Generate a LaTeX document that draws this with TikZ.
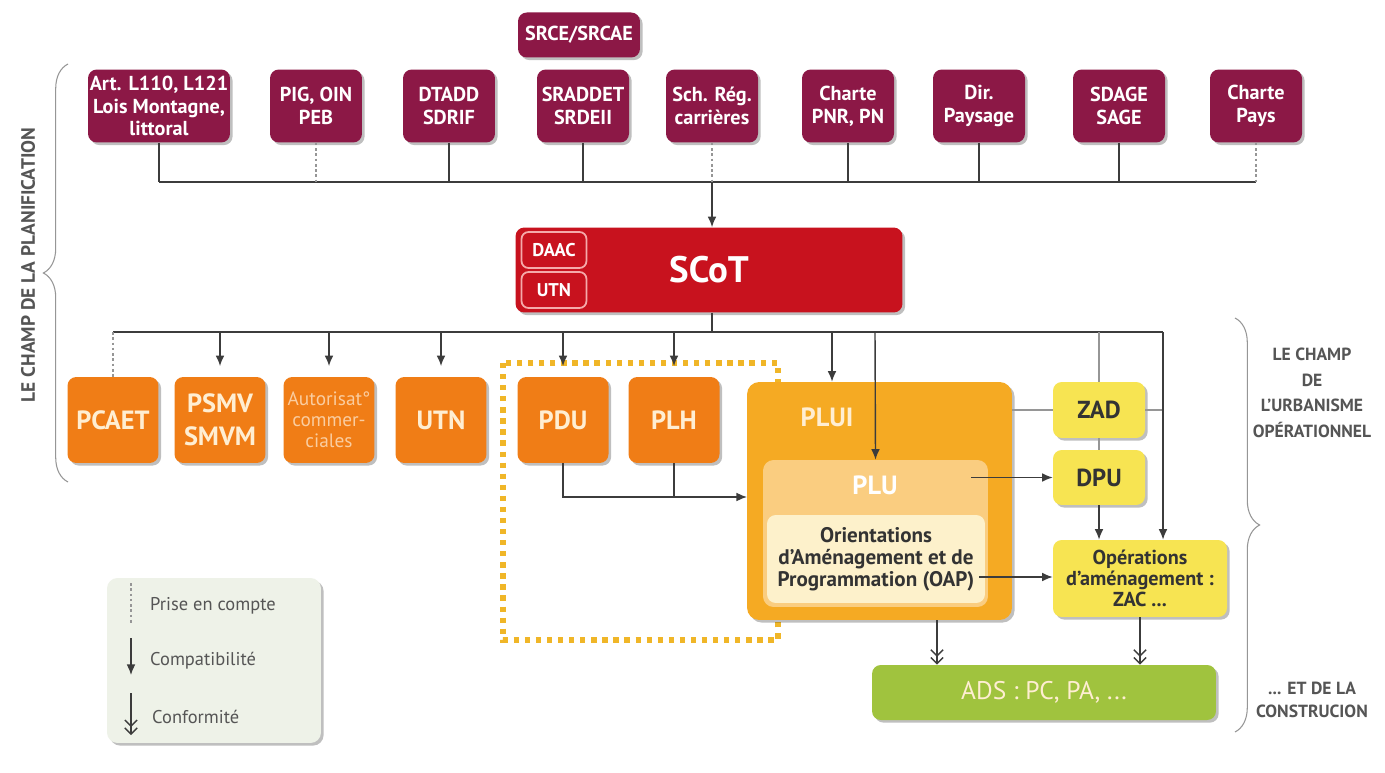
\documentclass[tikz,border=0pt]{standalone}
\usepackage{fontspec}
\setmainfont{PT Sans}
\usetikzlibrary{arrows.meta,shadows,decorations.pathreplacing}

\definecolor{lieDeVin}{RGB}{140,24,70}
\definecolor{rougeScot}{RGB}{200,18,30}
\definecolor{roseCadre}{RGB}{245,170,170}
\definecolor{orangeDoc}{RGB}{240,125,22}
\definecolor{orangePlui}{RGB}{245,170,35}
\definecolor{orangePlu}{RGB}{250,205,128}
\definecolor{cremeOap}{RGB}{253,241,203}
\definecolor{jauneOp}{RGB}{247,228,82}
\definecolor{vertAds}{RGB}{160,195,62}
\definecolor{fondLeg}{RGB}{238,242,232}
\definecolor{pointille}{RGB}{240,182,40}
\definecolor{trait}{RGB}{60,60,60}
\definecolor{traitClair}{RGB}{150,150,150}
\definecolor{texteGris}{RGB}{85,85,85}
\definecolor{texteCreme}{RGB}{255,238,210}
\definecolor{textePeche}{RGB}{250,205,160}

\tikzset{
  ombre/.style={drop shadow={shadow xshift=1.5pt, shadow yshift=-1.5pt, opacity=0.25, fill=black}},
  boite/.style={rounded corners=5pt, align=center, inner sep=1pt, ombre},
  haut/.style={boite, fill=lieDeVin, text=white, minimum width=1.84cm, minimum height=1.46cm,
    font=\bfseries\fontsize{11.5}{13}\selectfont},
  docorange/.style={boite, fill=orangeDoc, text=texteCreme, minimum width=1.82cm, minimum height=1.72cm,
    font=\bfseries\fontsize{15}{19}\selectfont},
  petitscot/.style={draw=roseCadre, line width=1pt, rounded corners=4pt, fill=rougeScot, text=white,
    minimum width=1.3cm, minimum height=0.72cm, font=\bfseries\fontsize{10.5}{11}\selectfont},
  jaune/.style={boite, fill=jauneOp, text=black!80, minimum width=1.84cm,
    font=\bfseries\fontsize{14}{15}\selectfont},
  ligne/.style={draw=trait, line width=0.8pt},
  gris/.style={draw=traitClair, line width=0.8pt},
  prise/.style={draw=traitClair, line width=0.8pt, dash pattern=on 1.5pt off 1.5pt},
  compat/.style={ligne, -{Latex[length=6pt,width=5pt]}},
  conform/.style={ligne, -{Straight Barb[length=3.5pt,width=7pt]Straight Barb[length=3.5pt,width=7pt]}},
  accolade/.style={draw=traitClair, line width=0.6pt, decorate, decoration={brace, amplitude=14pt}},
  etiquette/.style={text=texteGris, align=center, font=\bfseries\fontsize{10}{14.5}\selectfont},
  legtexte/.style={text=texteGris, anchor=west, font=\fontsize{10.5}{12}\selectfont},
}

\begin{document}
\begin{tikzpicture}[x=0.02cm, y=-0.02cm]
  \useasboundingbox (0,0) rectangle (1385,773);
  \fill[white] (0,0) rectangle (1385,773);

  % cadre pointille PDU / PLH
  \draw[pointille, line width=3pt, dash pattern=on 3pt off 3.3pt] (503,363) rectangle (778,640);

  % documents de rang superieur
  \node[haut, minimum width=2.44cm, minimum height=0.9cm] (srce) at (579,35) {SRCE/SRCAE};
  \node[haut, minimum width=2.84cm] (art) at (159,106) {Art. L110, L121\\Lois Montagne,\\littoral};
  \node[haut] (pig) at (316,106) {PIG, OIN\\PEB};
  \node[haut] (dtadd) at (449,106) {DTADD\\SDRIF};
  \node[haut] (sraddet) at (583,106) {SRADDET\\SRDEII};
  \node[haut] (carr) at (712,106) {Sch. Rég.\\carrières};
  \node[haut] (pnr) at (848,106) {Charte\\PNR, PN};
  \node[haut] (paysage) at (979,106) {Dir.\\Paysage};
  \node[haut] (sdage) at (1119,106) {SDAGE\\SAGE};
  \node[haut] (pays) at (1256,106) {Charte\\Pays};

  % SCoT
  \node[boite, fill=rougeScot, text=white, minimum width=7.74cm, minimum height=1.7cm,
    font=\bfseries\fontsize{21}{22}\selectfont] (scot) at (709,270) {SCoT};
  \node[petitscot] (daac) at (554,250) {DAAC};
  \node[petitscot] (utnS) at (554,290) {UTN};

  % documents orange
  \node[docorange] (pcaet) at (113,420) {PCAET};
  \node[docorange] (psmv) at (220,420) {PSMV\\SMVM};
  \node[docorange, text=textePeche, font=\fontsize{11}{12}\selectfont] (autor) at (329,420) {Autorisat°\\commer-\\ciales};
  \node[docorange] (utn) at (441,420) {UTN};
  \node[docorange] (pdu) at (563,420) {PDU};
  \node[docorange] (plh) at (674,420) {PLH};

  % PLUI / PLU / OAP
  \node[boite, fill=orangePlui, rounded corners=7pt, minimum width=5.3cm, minimum height=4.76cm] (plui) at (879.5,501) {};
  \node[text=texteCreme, font=\bfseries\fontsize{15}{16}\selectfont] (pluiT) at (827,417) {PLUI};
  \node[fill=orangePlu, rounded corners=6pt, minimum width=4.5cm, minimum height=2.94cm] (plu) at (875.5,533.5) {};
  \node[text=white, font=\bfseries\fontsize{15}{16}\selectfont] (pluT) at (875,485) {PLU};
  \node[fill=cremeOap, rounded corners=5pt, minimum width=4.36cm, minimum height=1.76cm, inner sep=1pt,
    text=black!80, align=center, font=\bfseries\fontsize{12}{12.5}\selectfont] (oap) at (876,559)
    {Orientations\\d'Aménagement et de\\Programmation (OAP)};

  % urbanisme operationnel
  \node[jaune, minimum height=1.12cm] (zad) at (1099,410) {ZAD};
  \node[jaune, minimum height=1.1cm] (dpu) at (1099,477.5) {DPU};
  \node[jaune, minimum width=3.48cm, minimum height=1.54cm, font=\bfseries\fontsize{11.5}{12}\selectfont] (ops) at (1140,578.5)
    {Opérations\\d'aménagement :\\ZAC ...};
  \node[boite, fill=vertAds, text=texteCreme, minimum width=6.88cm, minimum height=1.1cm,
    font=\fontsize{14.5}{15}\selectfont] (ads) at (1044,692.5) {ADS : PC, PA, ...};

  % liaisons vers le SCoT
  \coordinate (bus1) at (0,182);
  \draw[ligne] (art |- bus1) -- (pays |- bus1);
  \foreach \n in {art,dtadd,sraddet,pnr,paysage,sdage}
    \draw[ligne] (\n.south) -- (\n |- bus1);
  \foreach \n in {pig,carr,pays}
    \draw[prise] (\n.south) -- (\n |- bus1);
  \draw[compat] (carr |- bus1) -- (carr |- scot.north);

  % liaisons depuis le SCoT
  \coordinate (bus2) at (0,332);
  \coordinate (busR) at (1163,332);
  \coordinate (vPlui) at (832,332);
  \coordinate (vPlu) at (875,332);
  \draw[ligne] (carr |- scot.south) -- (carr |- bus2);
  \draw[ligne] (pcaet |- bus2) -- (busR);
  \draw[prise] (pcaet |- bus2) -- (pcaet.north);
  \foreach \n in {psmv,autor,utn,pdu,plh}
    \draw[compat, shorten >=6pt] (\n |- bus2) -- (\n.north);
  \draw[compat] (vPlui) -- (vPlui |- plui.north);
  \draw[compat] (vPlu) -- (plu.north);

  % PDU, PLH -> PLUI
  \coordinate (pin) at (747,497);
  \draw[compat] (pdu.south) |- (pin);
  \draw[ligne] (plh.south) -- (plh |- pin);

  % ZAD, DPU, operations
  \draw[gris] (zad.north) -- (zad |- bus2);
  \draw[gris] (zad.south) -- (dpu.north);
  \draw[gris] (plui.east |- zad) -- (zad.west);
  \draw[gris] (zad.east) -- (zad -| busR);
  \draw[compat] (busR) -- (busR |- ops.north);
  \draw[compat] (dpu.south) -- (dpu |- ops.north);
  \coordinate (pluOut) at (971,477.5);
  \coordinate (oapOut) at (979,577);
  \draw[compat] (pluOut) -- (dpu.west);
  \draw[compat] (oapOut) -- (oapOut -| ops.west);

  % conformite -> ADS
  \coordinate (cPlui) at ([xshift=1.15cm]plui.south);
  \draw[conform] (cPlui) -- (cPlui |- ads.north);
  \draw[conform] (ops.south) -- (ops.south |- ads.north);

  % legende
  \node[boite, fill=fondLeg, rounded corners=6pt, minimum width=4.28cm, minimum height=3.3cm] (legende) at (214,660.5) {};
  \draw[prise] (131,583) -- (131,623);
  \node[legtexte] (lPrise) at (144,606) {Prise en compte};
  \draw[compat] (131,638) -- (131,675);
  \node[legtexte] (lCompat) at (144,661) {Compatibilité};
  \draw[conform] (131,693) -- (131,735);
  \node[legtexte] (lConf) at (146,717) {Conformité};

  % accolades et titres
  \draw[accolade] (68,482) -- (68,64);
  \node[etiquette, rotate=90, font=\bfseries\fontsize{11}{12}\selectfont] (planif) at (28,265) {LE CHAMP DE LA PLANIFICATION};
  \draw[accolade] (1235,318) -- (1235,732);
  \node[etiquette] (urba) at (1312,393) {LE CHAMP\\DE\\L'URBANISME\\OPÉRATIONNEL};
  \node[etiquette, font=\bfseries\fontsize{10}{13.5}\selectfont] (constr) at (1312,700) {... ET DE LA\\CONSTRUCION};
\end{tikzpicture}
\end{document}
